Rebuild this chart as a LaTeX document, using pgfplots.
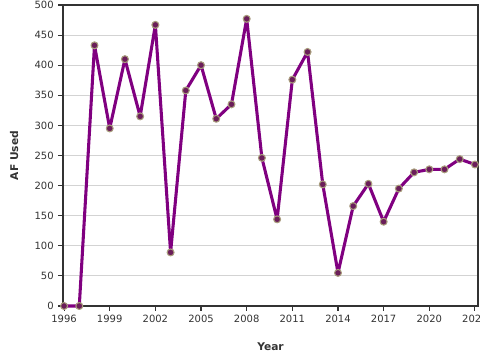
\documentclass[border=0pt]{standalone}
\usepackage{pgfplots}
\pgfplotsset{compat=1.18}
\usepackage{fontspec}
\setmainfont{DejaVu Sans}
\definecolor{lineP}{HTML}{800080}
\definecolor{mkfill}{HTML}{6B1E5A}
\definecolor{mkedge}{HTML}{A89C7C}
\definecolor{gridc}{HTML}{D3D3D3}
\definecolor{axc}{HTML}{333333}
\begin{document}
\begin{tikzpicture}
\useasboundingbox (0,0) rectangle (360pt,270pt);
\begin{axis}[
  at={(47.25pt,40.5pt)}, anchor=south west,
  scale only axis, width=311.25pt, height=225.75pt,
  xmin=1995.93, xmax=2023.2, ymin=0, ymax=500,
  xtick={1996,1999,...,2023}, ytick={0,50,...,500},
  /pgf/number format/assume math mode=true,
  /pgf/number format/1000 sep={},
  tick label style={font=\fontsize{7.5}{9}\selectfont, text=axc},
  ymajorgrids, grid style={gridc, line width=0.6pt},
  axis line style={axc, line width=1pt},
  tick style={axc, line width=0.8pt},
  tick align=outside, major tick length=3.5pt,
  xtick pos=bottom, ytick pos=left,
  xlabel={\textbf{Year}}, ylabel={\textbf{AF Used}},
  label style={font=\fontsize{8}{10}\selectfont, text=axc},
  xlabel style={at={(axis description cs:0.5,-0.136)}, anchor=center},
  ylabel style={at={(axis description cs:-0.118,0.5)}, anchor=center, rotate=0},
  clip=false,
]
\addplot[lineP, line width=2.3pt, line join=round, mark=*, mark size=2.6pt,
  mark options={fill=mkfill, draw=mkedge, line width=0.8pt}]
  coordinates {
  (1996,0) (1997,0) (1998,433) (1999,295) (2000,410) (2001,315) (2002,467)
  (2003,89) (2004,358) (2005,400) (2006,311) (2007,335) (2008,477) (2009,246)
  (2010,144) (2011,376) (2012,422) (2013,202) (2014,55) (2015,166) (2016,203)
  (2017,140) (2018,195) (2019,222) (2020,227) (2021,227) (2022,244) (2023,235)
  };
\end{axis}
\end{tikzpicture}
\end{document}
